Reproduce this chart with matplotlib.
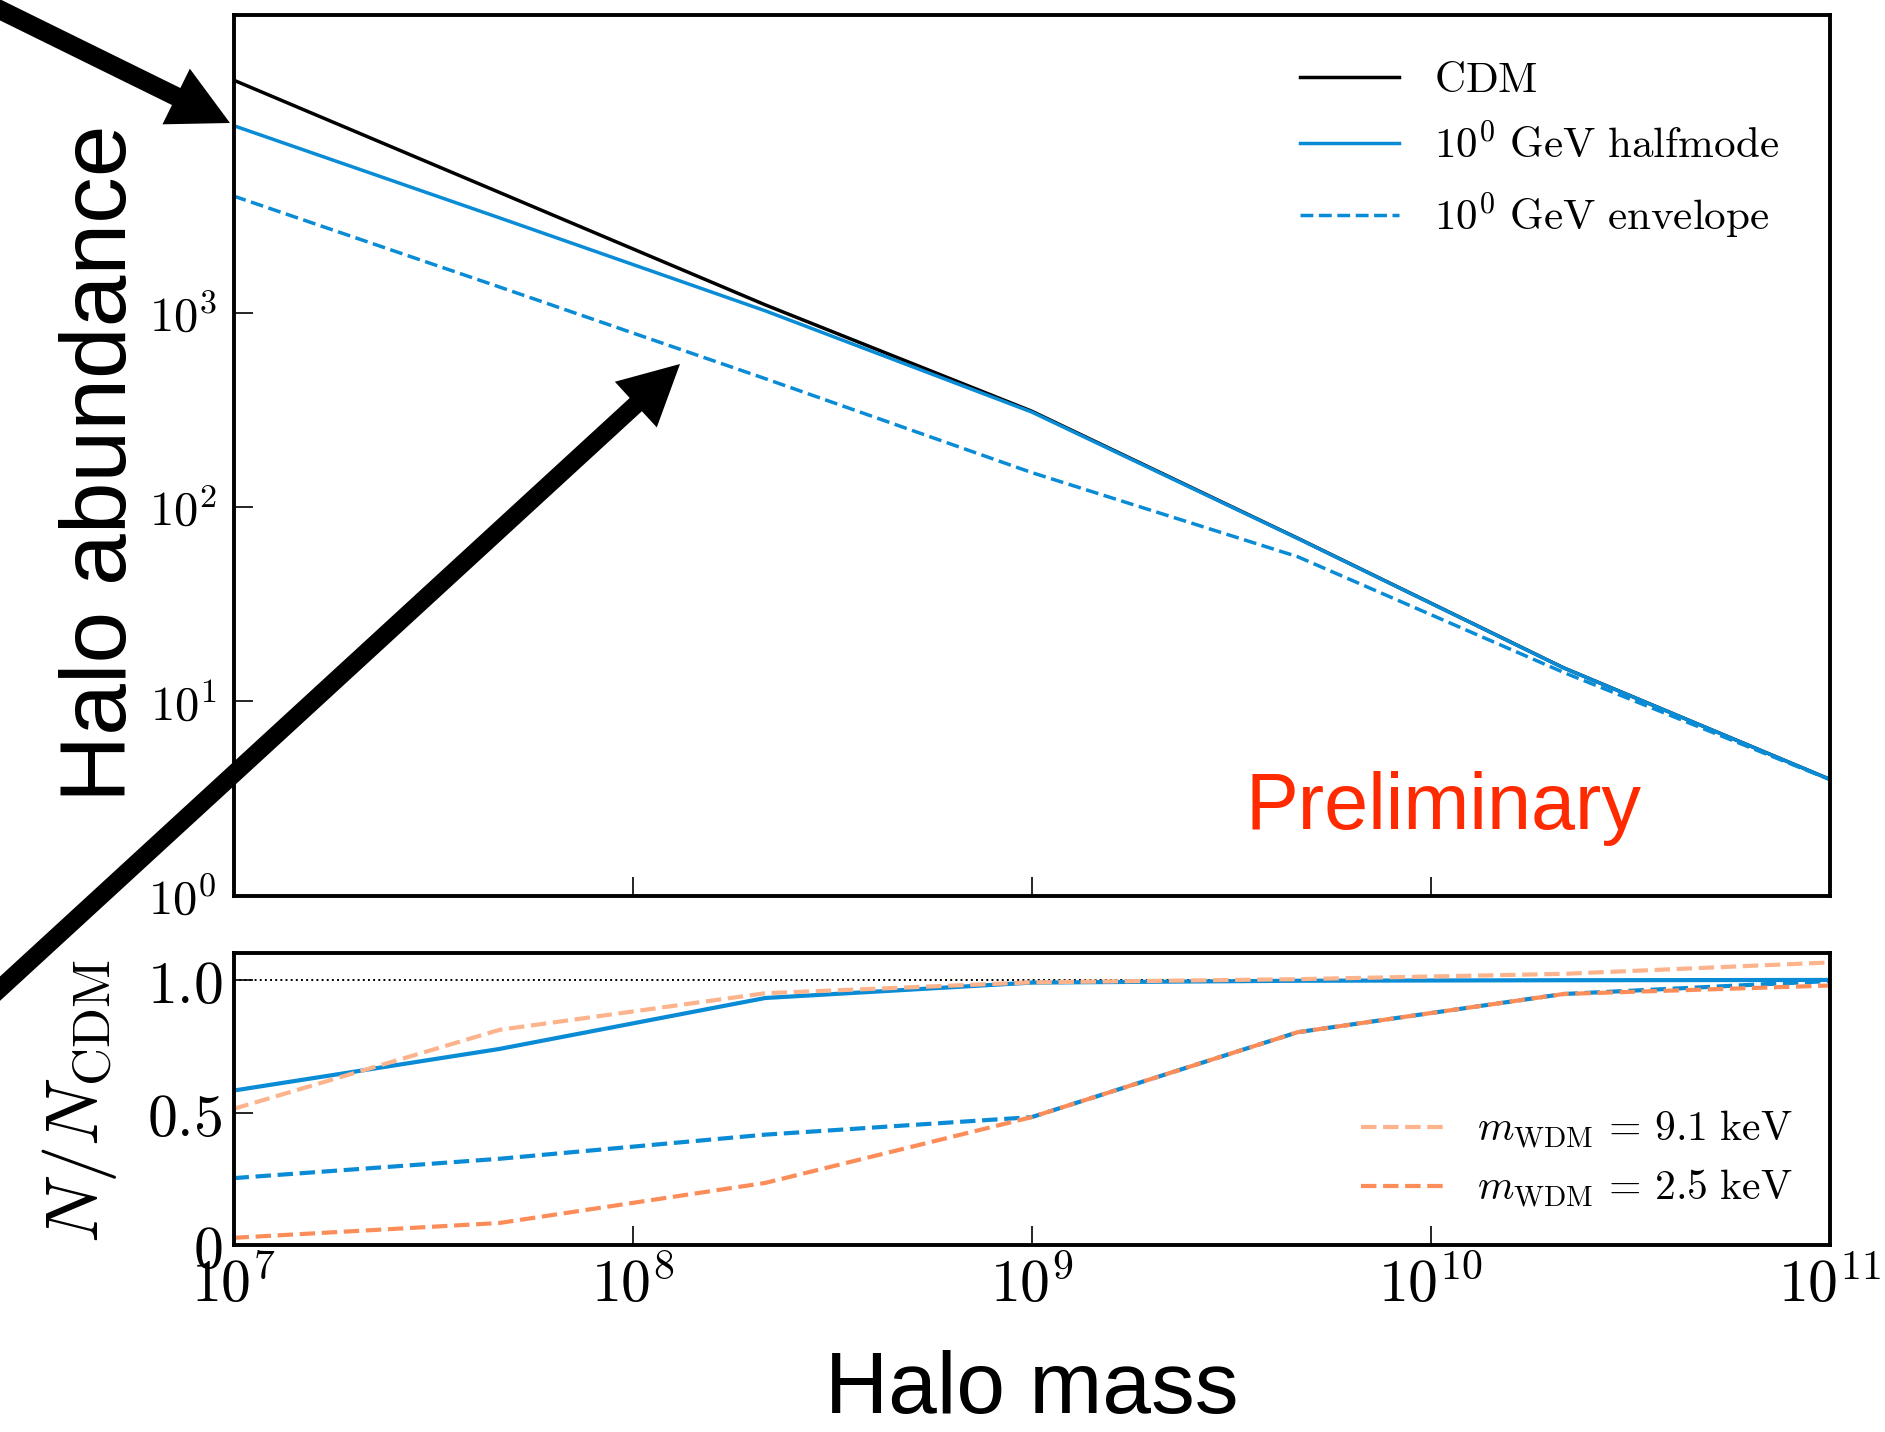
import numpy as np
import matplotlib
matplotlib.use('Agg')
import matplotlib.pyplot as plt
from matplotlib.patches import FancyArrow
from matplotlib.transforms import Affine2D

plt.rcParams['mathtext.fontset'] = 'cm'
plt.rcParams['axes.linewidth'] = 2.8

# halo mass bins and CDM halo counts
mass = [1e7, 4.64e7, 2.15e8, 1e9, 4.64e9, 2.15e10, 1e11]
n_cdm = [15800, 4170, 1100, 312, 69.2, 14.9, 3.97]

# abundance relative to CDM
ratio_halfmode = [0.583, 0.740, 0.932, 0.990, 0.997, 0.999, 1.0]
ratio_envelope = [0.253, 0.326, 0.417, 0.483, 0.803, 0.947, 0.996]
ratio_wdm_9p1 = [0.514, 0.812, 0.950, 0.991, 1.003, 1.023, 1.066]
ratio_wdm_2p5 = [0.028, 0.084, 0.235, 0.483, 0.803, 0.947, 0.979]

mass_ticks = [1e7, 1e8, 1e9, 1e10, 1e11]
mass_ticklabels = [r'$10^{7}$', r'$10^{8}$', r'$10^{9}$', r'$10^{10}$', r'$10^{11}$']
abund_ticks = [1, 10, 100, 1000]
abund_ticklabels = [r'$10^{0}$', r'$10^{1}$', r'$10^{2}$', r'$10^{3}$']
ratio_ticks = [0, 0.5, 1.0]
ratio_ticklabels = [r'$0$', r'$0.5$', r'$1.0$']

blue = '#098bd5'
orange_light = '#fdb38c'
orange_dark = '#fc8d59'

W, H = 1885, 1432
fig = plt.figure(figsize=(W / 100, H / 100), dpi=100)
ax1 = fig.add_axes([0.1239, 0.3746, 0.8468, 0.6146])
ax2 = fig.add_axes([0.1239, 0.1304, 0.8468, 0.2038])

halfmode = np.array(n_cdm) * np.array(ratio_halfmode)
envelope = np.array(n_cdm) * np.array(ratio_envelope)

# upper panel: abundances
ax1.plot(mass, n_cdm, color='k', lw=2.5, label=r'$\mathrm{CDM}$')
ax1.plot(mass, halfmode, color=blue, lw=2.5, label=r'$\mathrm{10^0\ GeV\ halfmode}$')
ax1.plot(mass, envelope, color=blue, lw=2.5, ls='--', label=r'$\mathrm{10^0\ GeV\ envelope}$')
ax1.set_xscale('log')
ax1.set_yscale('log')
ax1.set_xlim(1e7, 1e11)
ax1.set_ylim(1, 3.4e4)
ax1.set_xticks(mass_ticks)
ax1.set_xticklabels([])
ax1.set_yticks(abund_ticks)
ax1.set_yticklabels(abund_ticklabels)
ax1.minorticks_off()
ax1.tick_params(direction='in', length=14, width=1.2, labelsize=35, pad=12)
ax1.legend(loc='upper right', bbox_to_anchor=(0.968, 0.951), frameon=False,
           fontsize=31, handlelength=2.3, handletextpad=0.8,
           labelspacing=0.55, borderpad=0, borderaxespad=0)
ax1.text(0.634, 0.0753, 'Preliminary', transform=ax1.transAxes, color='#ff2a00',
         fontsize=57, family='Liberation Sans', ha='left', va='baseline')
ax1.set_ylabel('Halo abundance', family='Liberation Sans', fontsize=67,
               va='baseline', ha='center')
ax1.yaxis.set_label_coords(-0.0673, 0.4915)

# lower panel: ratio to CDM
ax2.axhline(1.0, color='k', ls=':', lw=1.4)
ax2.plot(mass, ratio_halfmode, color=blue, lw=3)
ax2.plot(mass, ratio_envelope, color=blue, lw=3, ls='--')
ax2.plot(mass, ratio_wdm_9p1, color=orange_light, lw=3, ls='--',
         label=r'$m_{\rm WDM}\,=\,9.1\ {\rm keV}$')
ax2.plot(mass, ratio_wdm_2p5, color=orange_dark, lw=3, ls='--',
         label=r'$m_{\rm WDM}\,=\,2.5\ {\rm keV}$')
ax2.set_xscale('log')
ax2.set_xlim(1e7, 1e11)
ax2.set_ylim(0, 1.1)
ax2.set_xticks(mass_ticks)
ax2.set_xticklabels(mass_ticklabels)
ax2.set_yticks(ratio_ticks)
ax2.set_yticklabels(ratio_ticklabels)
ax2.minorticks_off()
ax2.tick_params(direction='in', length=14, width=1.2, labelsize=43, pad=8)
ax2.legend(loc='lower right', bbox_to_anchor=(0.977, 0.12), frameon=False,
           fontsize=30, handlelength=2.0, handletextpad=0.8,
           labelspacing=0.4, borderpad=0, borderaxespad=0)
ax2.set_ylabel(r'$N/N_{\rm CDM}$', fontsize=54, va='baseline', ha='center')
ax2.yaxis.set_label_coords(-0.0849, 0.494)
ax2.set_xlabel('Halo mass', family='Liberation Sans', fontsize=63, va='baseline')
ax2.xaxis.set_label_coords(0.5, -0.575)

# pointer arrows, laid out in pixels from the top-left corner
pix = Affine2D().scale(1 / W, -1 / H).translate(0, 1) + fig.transFigure
arrows = [((-20, 0), (230, 123), 19),
          ((-20, 1007), (680, 364), 18)]
for (x0, y0), (x1, y1), w in arrows:
    fig.add_artist(FancyArrow(x0, y0, x1 - x0, y1 - y0, width=w, head_width=62,
                              head_length=60, length_includes_head=True,
                              color='k', lw=0, transform=pix))

fig.savefig('out.png', dpi=100)
